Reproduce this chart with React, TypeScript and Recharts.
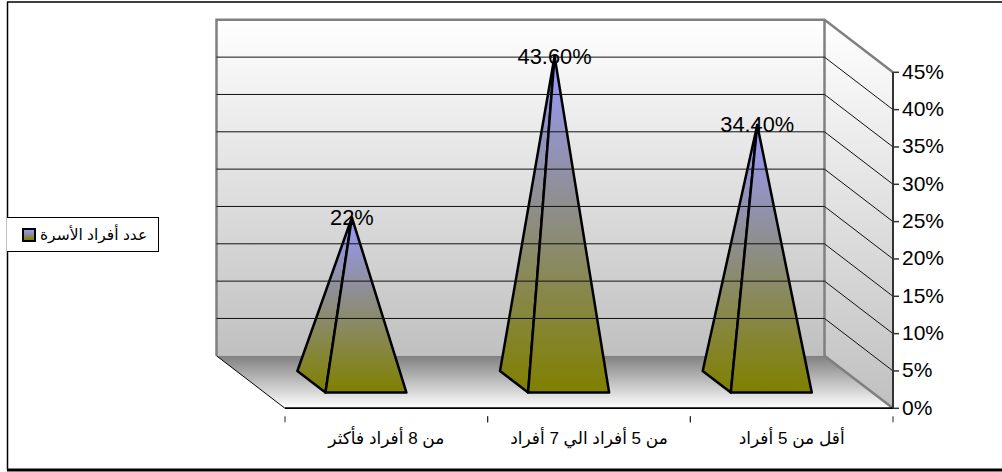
import React from 'react';
import { BarChart, Bar, XAxis, YAxis, Legend, LabelList, ReferenceArea, ReferenceLine } from 'recharts';

const categories = ['من 8 أفراد فأكثر', 'من 5 أفراد الي 7 أفراد', 'أقل من 5 أفراد'];
const values = [22, 43.6, 34.4];
const valueLabels = ['22%', '43.60%', '34.40%'];
const yTicks = [0, 5, 10, 15, 20, 25, 30, 35, 40, 45];
const gridTicks = [5, 10, 15, 20, 25, 30, 35, 40];
const seriesName = 'عدد أفراد الأسرة';

const chartData = categories.map((name, i) => ({ name, value: values[i], label: valueLabels[i] }));

// oblique projection: how far the back wall sits from the front plane
const DEPTH_X = 68.5;
const DEPTH_Y = 52.5;
const FRONT = 0.3;
const BACK = 0.71;
const APEX = 0.505;

const FONT = '"Liberation Sans", Arial, "DejaVu Sans", sans-serif';

const Walls = ({ x, y, width, height }: any) => {
  const bottom = y + height;
  const right = x + width;
  const bx = x - DEPTH_X;
  const bRight = right - DEPTH_X;
  const bTop = y - DEPTH_Y;
  const bBottom = bottom - DEPTH_Y;
  return (
    <g>
      <polygon points={`${bx},${bTop} ${bRight},${bTop} ${bRight},${bBottom} ${bx},${bBottom}`} fill="url(#wallFill)" />
      <polygon points={`${bRight},${bTop} ${right},${y} ${right},${bottom} ${bRight},${bBottom}`} fill="url(#wallFill)" />
      <polygon points={`${bx},${bBottom} ${bRight},${bBottom} ${right},${bottom} ${x},${bottom}`} fill="url(#floorFill)" />
      <polyline points={`${bx},${bBottom} ${bx},${bTop} ${bRight},${bTop} ${right},${y}`} fill="none" stroke="#808080" strokeWidth={2.5} />
      <polyline points={`${bRight},${bTop} ${bRight},${bBottom} ${right},${bottom}`} fill="none" stroke="#808080" strokeWidth={2.5} />
      <line x1={bx} y1={bBottom} x2={x} y2={bottom} stroke="#000" strokeWidth={1} />
      {/* the walls sit over the axis lines, so the front edges are repeated here */}
      <line x1={right} y1={y} x2={right} y2={bottom} stroke="#333" strokeWidth={2} />
      <line x1={x} y1={bottom} x2={right} y2={bottom} stroke="#000" strokeWidth={1.5} />
    </g>
  );
};

const GridLine = (props: any) => {
  const { x1, x2, y1 } = props;
  const left = Math.min(x1, x2);
  const right = Math.max(x1, x2);
  return (
    <polyline
      points={`${left - DEPTH_X},${y1 - DEPTH_Y} ${right - DEPTH_X},${y1 - DEPTH_Y} ${right},${y1}`}
      fill="none"
      stroke="#111"
      strokeWidth={1}
    />
  );
};

const Pyramid = (props: any) => {
  const { x, y, width, height } = props;
  const base = y + height;
  const fl = [x - FRONT * DEPTH_X, base - FRONT * DEPTH_Y];
  const fr = [x + width - FRONT * DEPTH_X, base - FRONT * DEPTH_Y];
  const bl = [x - BACK * DEPTH_X, base - BACK * DEPTH_Y];
  const apex = [x + width / 2 - APEX * DEPTH_X, y - APEX * DEPTH_Y];
  return (
    <g stroke="#000" strokeWidth={2.5} strokeLinejoin="round">
      <polygon points={`${bl} ${fl} ${apex}`} fill="url(#barFill)" />
      <polygon points={`${fl} ${fr} ${apex}`} fill="url(#barFill)" />
    </g>
  );
};

const ValueLabel = (props: any) => {
  const { x, y, width, index } = props;
  return (
    <text
      x={x + width / 2 - APEX * DEPTH_X}
      y={y - APEX * DEPTH_Y + 7.5}
      textAnchor="middle"
      fontSize={21.8}
      fontFamily={FONT}
      fill="#000"
    >
      {valueLabels[index]}
    </text>
  );
};

const CategoryTick = (props: any) => {
  const { x, y, payload, width } = props;
  const band = width / categories.length;
  return (
    <g>
      <line x1={x - band / 2} y1={y} x2={x - band / 2} y2={y + 6} stroke="#222" />
      <line x1={x + band / 2} y1={y} x2={x + band / 2} y2={y + 6} stroke="#222" />
      <text x={x} y={y + 28} textAnchor="middle" direction="rtl" fontSize={17} fontFamily={FONT} fill="#000">
        {payload.value}
      </text>
    </g>
  );
};

const LegendBox = () => (
  <div
    style={{
      width: 152,
      height: 35,
      boxSizing: 'border-box',
      borderTop: '1px solid #000',
      borderBottom: '1px solid #000',
      borderRight: '1px solid #000',
      display: 'flex',
      alignItems: 'center',
      background: '#fff',
      fontFamily: FONT,
      fontSize: 15.5,
      color: '#000',
    }}
  >
    <span
      style={{
        marginLeft: 15,
        width: 14,
        height: 14,
        boxSizing: 'border-box',
        border: '2.5px solid #000',
        background: 'linear-gradient(#9999ff, #808000)',
      }}
    />
    <span style={{ marginLeft: 4, direction: 'rtl' }}>{seriesName}</span>
  </div>
);

export default function App() {
  return (
    <div style={{ position: 'absolute', left: 0, top: 0, width: 1002, height: 472, background: '#fff', overflow: 'hidden' }}>
      <BarChart
        width={1002}
        height={472}
        data={chartData}
        margin={{ top: 72.3, right: 0, bottom: 0, left: 285 }}
        barSize={81}
      >
        <defs>
          <linearGradient id="wallFill" x1="0" y1="0" x2="0" y2="1">
            <stop offset="0%" stopColor="#ffffff" />
            <stop offset="100%" stopColor="#c0c0c0" />
          </linearGradient>
          <linearGradient id="floorFill" x1="0" y1="0" x2="0" y2="1">
            <stop offset="0%" stopColor="#808080" />
            <stop offset="100%" stopColor="#ffffff" />
          </linearGradient>
          <linearGradient id="barFill" x1="0" y1="0" x2="0" y2="1">
            <stop offset="0%" stopColor="#9999ff" />
            <stop offset="100%" stopColor="#808000" />
          </linearGradient>
        </defs>
        <line x1={7.5} y1={2} x2={7.5} y2={470} stroke="#000" strokeWidth={1.5} />
        <line x1={7} y1={2} x2={1002} y2={2} stroke="#000" strokeWidth={1.5} />
        <line x1={7} y1={470} x2={1002} y2={470} stroke="#000" strokeWidth={3} />
        <ReferenceArea y1={0} y2={45} shape={Walls} ifOverflow="visible" />
        {gridTicks.map((t) => (
          <ReferenceLine key={t} y={t} shape={GridLine} ifOverflow="visible" />
        ))}
        <XAxis
          dataKey="name"
          height={63.7}
          interval={0}
          axisLine={{ stroke: '#000', strokeWidth: 1.5 }}
          tickLine={false}
          tick={CategoryTick}
        />
        <YAxis
          orientation="right"
          width={109}
          domain={[0, 45]}
          ticks={yTicks}
          tickFormatter={(v: number) => `${v}%`}
          axisLine={{ stroke: '#333', strokeWidth: 2 }}
          tickLine={{ stroke: '#333', strokeWidth: 1.5 }}
          tickSize={6}
          tickMargin={3}
          dy={-1}
          tick={{ fill: '#000', fontSize: 21, fontFamily: FONT }}
        />
        <Legend
          content={LegendBox}
          layout="vertical"
          align="center"
          verticalAlign="middle"
          wrapperStyle={{ left: 7, top: 217, width: 152, bottom: 'auto' }}
        />
        <Bar dataKey="value" name={seriesName} shape={Pyramid} isAnimationActive={false}>
          <LabelList dataKey="value" content={ValueLabel} />
        </Bar>
      </BarChart>
    </div>
  );
}
